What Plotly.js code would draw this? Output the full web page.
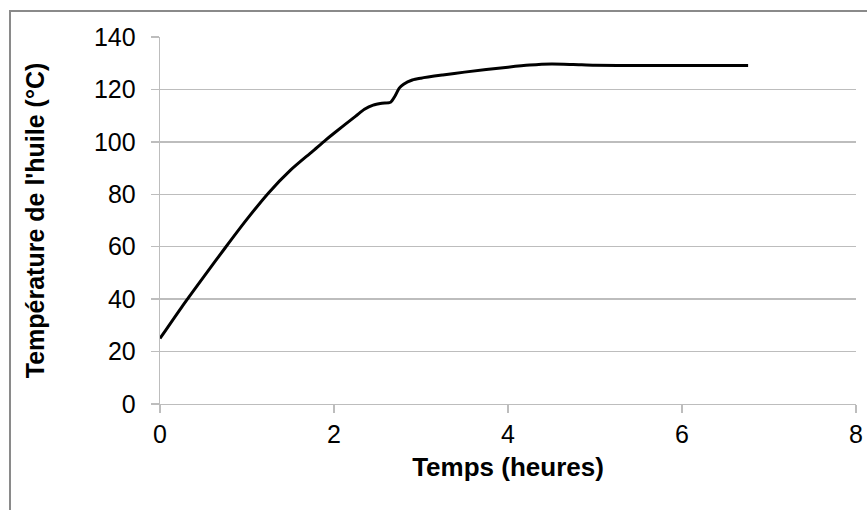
<!DOCTYPE html>
<html>
<head>
<meta charset="utf-8">
<script src="https://cdn.plot.ly/plotly-3.0.1.min.js"></script>
<style>html,body{margin:0;padding:0;background:#fff;}#chart{width:867px;height:510px;}</style>
</head>
<body>
<div id="chart"></div>
<script>
const timeHours = [0, 0.25, 0.5, 0.75, 1.0, 1.25, 1.5, 1.75, 1.9, 2.0, 2.25, 2.35, 2.45, 2.55, 2.65, 2.7, 2.75, 2.8, 2.9, 3.0, 3.25, 3.5, 4.0, 4.25, 4.5, 4.75, 5.0, 5.5, 6.0, 6.5, 6.76];
const oilTemp   = [25, 37, 48.4, 59.6, 70.5, 80.6, 89.2, 96.3, 100.6, 103.3, 109.8, 112.4, 114.0, 114.7, 115.1, 117.4, 120.5, 122, 123.6, 124.3, 125.5, 126.6, 128.5, 129.3, 129.7, 129.5, 129.2, 129.1, 129.1, 129.1, 129.1];
const xTicks = [0, 2, 4, 6, 8];
const yTicks = [0, 20, 40, 60, 80, 100, 120, 140];
const xTitle = "Temps (heures)";
const yTitle = "Température de l'huile (°C)";

const fontFam = "Liberation Sans, Arial, sans-serif";
const gridCol = "#bdbdbd";

const trace = {
  x: timeHours, y: oilTemp, type: "scatter", mode: "lines",
  line: {color: "#000000", width: 3, shape: "spline", smoothing: 0.7},
  hoverinfo: "x+y", showlegend: false
};

const layout = {
  width: 867, height: 510,
  margin: {l: 160, r: 11, t: 37, b: 106},
  paper_bgcolor: "#ffffff", plot_bgcolor: "#ffffff",
  font: {family: fontFam, size: 25, color: "#000"},
  xaxis: {
    range: [0, 8], tickvals: xTicks, ticktext: xTicks.map(String),
    showgrid: false, zeroline: false,
    showline: true, linecolor: gridCol, linewidth: 1.3,
    ticks: "outside", ticklen: 8, tickcolor: gridCol, tickwidth: 1.3,
    tickfont: {family: fontFam, size: 25, color: "#000"},
    title: {text: xTitle, font: {family: fontFam, size: 26, color: "#000", weight: "bold"}, standoff: 10},
    automargin: false, fixedrange: true
  },
  yaxis: {
    range: [0, 140], tickvals: yTicks, ticktext: yTicks.map(String),
    showgrid: true, gridcolor: gridCol, gridwidth: 1.3, zeroline: false,
    showline: true, linecolor: gridCol, linewidth: 1.3,
    ticks: "outside", ticklen: 8, tickcolor: gridCol, tickwidth: 1.3,
    ticklabelstandoff: 10,
    tickfont: {family: fontFam, size: 25, color: "#000"},
    title: {text: yTitle, font: {family: fontFam, size: 25, color: "#000", weight: "bold"}, standoff: 42},
    automargin: false, fixedrange: true
  },
  shapes: [{
    type: "rect", xref: "paper", yref: "paper",
    x0: (10 - 160) / 696, x1: 1.2, y0: -0.6, y1: 1 + (37 - 11) / 367,
    line: {color: "#8a8a8a", width: 2}, fillcolor: "rgba(0,0,0,0)", layer: "below"
  }]
};

Plotly.newPlot("chart", [trace], layout, {displayModeBar: false, staticPlot: true});
</script>
</body>
</html>
